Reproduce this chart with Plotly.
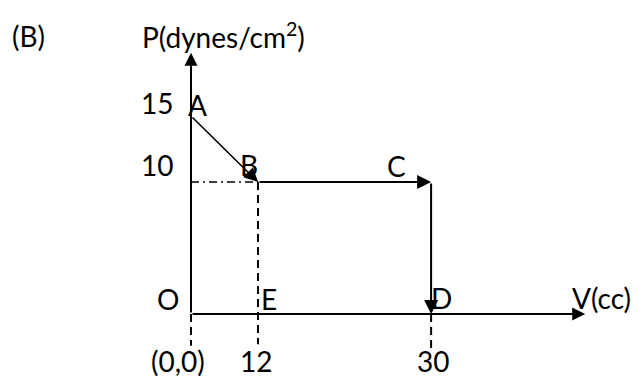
import plotly.graph_objects as go

# ---- data ----
points = ["A", "B", "C", "D"]
V_cc = [0, 12, 30, 30]          # volume (cc)
P_dyn = [15, 10, 10, 0]         # pressure (dynes/cm^2)
V_tick_values = [0, 12, 30]
V_tick_labels = ["(0,0)", "12", "30"]
P_tick_values = [15, 10]
P_tick_labels = ["15", "10"]
# The sketch is not to scale: horizontal drawing position of each volume value
V_drawn = {0: 0, 12: 12, 30: 43}
V_axis_end = 70.6
P_axis_end = 19.8
below_axis = -2.4

FONT = "Lato"
FS = 28
BLACK = "#000000"

xs = [V_drawn[v] for v in V_cc]
ys = P_dyn

fig = go.Figure()

# dashed drop lines below the V axis and the dash-dot line to B
fig.add_trace(go.Scatter(x=[0, 0], y=[0, below_axis], mode="lines",
                         line=dict(color=BLACK, width=2, dash="8px,5px"), hoverinfo="skip"))
fig.add_trace(go.Scatter(x=[xs[1], xs[1]], y=[ys[1], below_axis + 0.1], mode="lines",
                         line=dict(color=BLACK, width=2, dash="8px,5px"), hoverinfo="skip"))
fig.add_trace(go.Scatter(x=[xs[3], xs[3]], y=[0, below_axis - 0.2], mode="lines",
                         line=dict(color=BLACK, width=2, dash="8px,5px"), hoverinfo="skip"))
fig.add_trace(go.Scatter(x=[0, xs[1]], y=[ys[1], ys[1]], mode="lines",
                         line=dict(color=BLACK, width=1.5, dash="8px,4px,2px,4px"), hoverinfo="skip"))

anns = []
def arrow(x0, y0, x1, y1, size=1.4, width=2):
    anns.append(dict(x=x1, y=y1, ax=x0, ay=y0, xref="x", yref="y", axref="x", ayref="y",
                     text="", showarrow=True, arrowhead=2, arrowsize=size, arrowwidth=width,
                     arrowcolor=BLACK, standoff=0, startstandoff=0))

# axes
arrow(0, 0, 0, P_axis_end, size=1.3)
arrow(0, 0, V_axis_end, 0, size=1.3)
# process A->B->C->D
for i in range(len(points) - 1):
    arrow(xs[i], ys[i], xs[i + 1], ys[i + 1], width=2 if i else 1.6, size=1.4 if i else 1.75)

def label(text, x, y, dx, dy, xanchor="center"):
    anns.append(dict(x=x, y=y, xref="x", yref="y", text=text, showarrow=False,
                     xshift=dx, yshift=dy, xanchor=xanchor, yanchor="middle",
                     font=dict(family=FONT, size=FS, color=BLACK)))

# point labels
offs = {"A": (6, 11), "B": (-9, 17), "C": (-35, 16), "D": (10, 16)}
for p, x, y in zip(points, xs, ys):
    label(p, x, y, *offs[p])
label("O", 0, 0, -23, 15)
label("E", xs[1], 0, 11, 15)
# tick labels
for v, t in zip(V_tick_values, V_tick_labels):
    label(t, V_drawn[v], 0, {0: -13, 12: -2, 30: 2}[v], -47)
for p, t in zip(P_tick_values, P_tick_labels):
    label(t, 0, p, -34, 13 if p == 15 else 17)
# axis titles
label("V(cc)", V_axis_end, 0, -15, 16, xanchor="left")
label("P(dynes/cm<sup>2</sup>)", 0, P_axis_end, 32, 17)
anns.append(dict(x=0.03145, y=0.9249, xref="paper", yref="paper", text="(B)", showarrow=False,
                 xanchor="center", yanchor="middle", font=dict(family=FONT, size=FS, color=BLACK)))

# the page body has an 8px margin, so the figure sits at (8, 8); it is sized to
# reach the window's right and bottom edges
fig.update_layout(
    width=636, height=373, autosize=False,
    margin=dict(l=0, r=0, t=0, b=0),
    paper_bgcolor="white", plot_bgcolor="white",
    showlegend=False, annotations=anns,
    xaxis=dict(range=[-32.776, 81.13], visible=False, fixedrange=True),
    yaxis=dict(range=[-5.076, 23.182], visible=False, fixedrange=True),
)
fig.write_html("out.html")
